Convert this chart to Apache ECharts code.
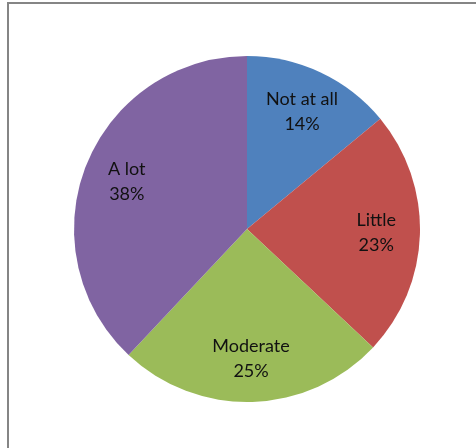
<!DOCTYPE html>
<html>
<head>
<meta charset="utf-8">
<script src="https://cdn.jsdelivr.net/npm/echarts@6/dist/echarts.min.js"></script>
<style>
  html, body { margin: 0; padding: 0; background: #fff; }
  #chart { width: 476px; height: 448px; }
</style>
</head>
<body>
<div id="chart"></div>
<script>
// Share of answers by category, clockwise from 12 o'clock
const categories = ['Not at all', 'Little', 'Moderate', 'A lot'];
const shares = [14, 23, 25, 38];
const colors = ['#4F81BD', '#C0504D', '#9BBB59', '#8064A2'];

const chart = echarts.init(document.getElementById('chart'), null, { renderer: 'canvas' });

const pieData = categories.map((name, i) => ({
  name: name,
  value: shares[i],
  itemStyle: { color: colors[i] }
}));

const center = [247, 229];
const radius = 173;

chart.setOption({
  animation: false,
  backgroundColor: '#ffffff',
  graphic: [{
    type: 'rect',
    shape: { x: 8, y: 3, width: 500, height: 480 },
    style: { fill: 'none', stroke: '#858585', lineWidth: 2 },
    silent: true,
    z: 0
  }],
  series: [
    {
      // filled slices
      type: 'pie',
      center: center,
      radius: [0, radius],
      startAngle: 90,
      clockwise: true,
      label: { show: false },
      labelLine: { show: false },
      itemStyle: { borderWidth: 0 },
      emphasis: { disabled: true },
      silent: true,
      data: pieData,
      z: 2
    },
    {
      // transparent ring carrying the slice labels further out than the midpoint
      type: 'pie',
      center: center,
      radius: [radius * 0.46, radius],
      startAngle: 90,
      clockwise: true,
      itemStyle: { color: 'rgba(0,0,0,0)', borderWidth: 0 },
      label: {
        show: true,
        position: 'inside',
        formatter: p => p.name + '\n' + p.value + '%',
        fontFamily: 'Lato',
        fontSize: 18,
        lineHeight: 25,
        color: '#111111',
        align: 'center'
      },
      labelLine: { show: false },
      emphasis: { disabled: true },
      silent: true,
      data: categories.map((name, i) => ({ name: name, value: shares[i] })),
      z: 3
    }
  ]
});
</script>
</body>
</html>
